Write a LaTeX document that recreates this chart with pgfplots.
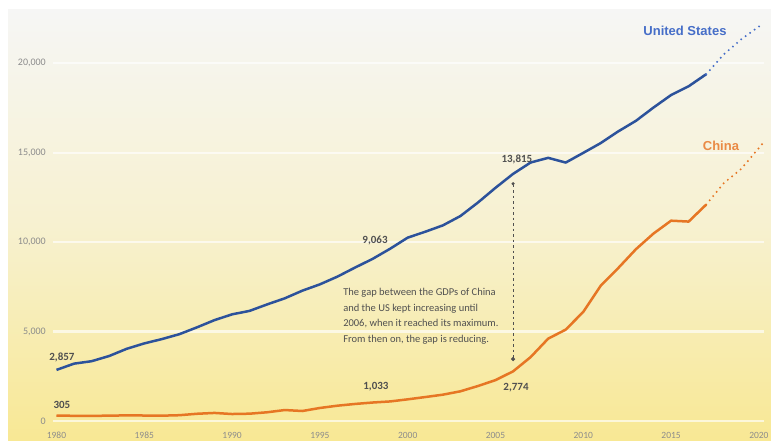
\documentclass[border=0pt]{standalone}
\usepackage{pgfplots}
\pgfplotsset{compat=1.18}
\usepackage{pgfplotstable}
\usepackage{fontspec}
\setmainfont{Carlito}
\newfontfamily\arialfont{Liberation Sans}
\usetikzlibrary{arrows.meta}
\definecolor{usblue}{RGB}{44,82,155}
\definecolor{usbluelt}{RGB}{70,110,200}
\definecolor{cnorange}{RGB}{230,118,36}
\definecolor{lblgray}{RGB}{80,80,80}
\definecolor{tickgray}{RGB}{140,140,140}
\definecolor{bgtop}{RGB}{246,246,245}
\definecolor{bgmid}{RGB}{247,241,208}
\definecolor{bgbot}{RGB}{248,232,148}

\pgfplotstableread{
year val
1980 2857
1981 3207
1982 3343
1983 3634
1984 4037
1985 4339
1986 4579
1987 4855
1988 5236
1989 5641
1990 5963
1991 6158
1992 6520
1993 6859
1994 7287
1995 7640
1996 8073
1997 8578
1998 9063
1999 9631
2000 10252
2001 10582
2002 10936
2003 11458
2004 12214
2005 13037
2006 13815
2007 14452
2008 14713
2009 14449
2010 14992
2011 15543
2012 16197
2013 16785
2014 17527
2015 18225
2016 18715
2017 19390
}\usdata

\pgfplotstableread{
year val
2017 19390
2018 20494
2019 21345
2020.2 22200
}\usfore

\pgfplotstableread{
year val
1980 305
1981 290
1982 282
1983 302
1984 312
1985 307
1986 298
1987 324
1988 404
1989 451
1990 390
1991 409
1992 488
1993 613
1994 559
1995 728
1996 856
1997 953
1998 1033
1999 1094
2000 1211
2001 1339
2002 1471
2003 1660
2004 1955
2005 2286
2006 2774
2007 3571
2008 4604
2009 5110
2010 6101
2011 7573
2012 8561
2013 9607
2014 10482
2015 11200
2016 11150
2017 12100
}\cndata

\pgfplotstableread{
year val
2017 12100
2018 13300
2019 14100
2020.2 15500
}\cnfore

\begin{document}
\begin{tikzpicture}
\fill[top color=bgtop, bottom color=bgbot, middle color=bgmid] (8pt,0pt) rectangle (771pt,431pt);
\begin{axis}[at={(0,0)}, anchor=south west, scale only axis,
  width=771pt, height=441pt,
  xmin=1976.783, xmax=2020.69, ymin=-1118, ymax=23539,
  axis line style={draw=none}, tick style={draw=none}, clip=false,
  scaled x ticks=false, scaled y ticks=false,
  xtick={1980,1985,...,2020}, ytick={0,5000,10000,15000,20000},
  /pgf/number format/assume math mode=true,
  xticklabel style={/pgf/number format/1000 sep={}, font=\fontsize{9.5}{10}\selectfont, text=tickgray, anchor=north, inner sep=0pt, yshift=9pt},
  yticklabel style={/pgf/number format/1000 sep={,}, font=\fontsize{10}{11}\selectfont, text=tickgray, anchor=east, inner sep=0pt, xshift=46pt},
]
\pgfplotsinvokeforeach{0,5000,10000,15000,20000}{
  \draw[white, opacity=0.65, line width=2.2pt] (axis cs:1979.8,#1) -- (axis cs:2020.3,#1);
}
\addplot[usblue, line width=2.5pt, line join=round] table[x=year, y=val] {\usdata};
\addplot[usbluelt, line width=2.2pt, dash pattern=on 0pt off 5.5pt, line cap=round] table[x=year, y=val] {\usfore};
\addplot[cnorange, line width=2.5pt, line join=round] table[x=year, y=val] {\cndata};
\addplot[cnorange, line width=2.2pt, dash pattern=on 0pt off 5.5pt, line cap=round] table[x=year, y=val] {\cnfore};

\draw[lblgray, line width=1pt, dash pattern=on 2.5pt off 3pt, {Circle[length=3pt]}-{Circle[length=4pt]}] (axis cs:2006,13350) -- (axis cs:2006,3350);

\begin{scope}[every node/.style={font=\fontsize{11}{12}\selectfont\bfseries, text=lblgray, inner sep=0pt}]
\node at (axis cs:1980.31,3578) {2,857};
\node at (axis cs:1980.31,895) {305};
\node at (axis cs:1998.14,10120) {9,063};
\node at (axis cs:2006.22,14649) {13,815};
\node at (axis cs:2006.17,1845) {2,774};
\node at (axis cs:1998.19,1901) {1,033};
\end{scope}
\node[font=\arialfont\fontsize{13}{14}\selectfont\bfseries, text=usbluelt, inner sep=0pt] at (axis cs:2015.79,21806) {United States};
\node[font=\arialfont\fontsize{13}{14}\selectfont\bfseries, text=cnorange!85!white, inner sep=0pt] at (axis cs:2017.84,15376) {China};
\node[anchor=west, align=left, inner sep=0pt, text=lblgray, font=\fontsize{10.5}{15.5}\selectfont] at (axis cs:1996.32,5843)
 {The gap between the GDPs of China\\and the US kept increasing until\\2006, when it reached its maximum.\\From then on, the gap is reducing.};
\end{axis}
\pgfresetboundingbox
\path (0,0) rectangle (771pt,441pt);
\end{tikzpicture}
\end{document}
